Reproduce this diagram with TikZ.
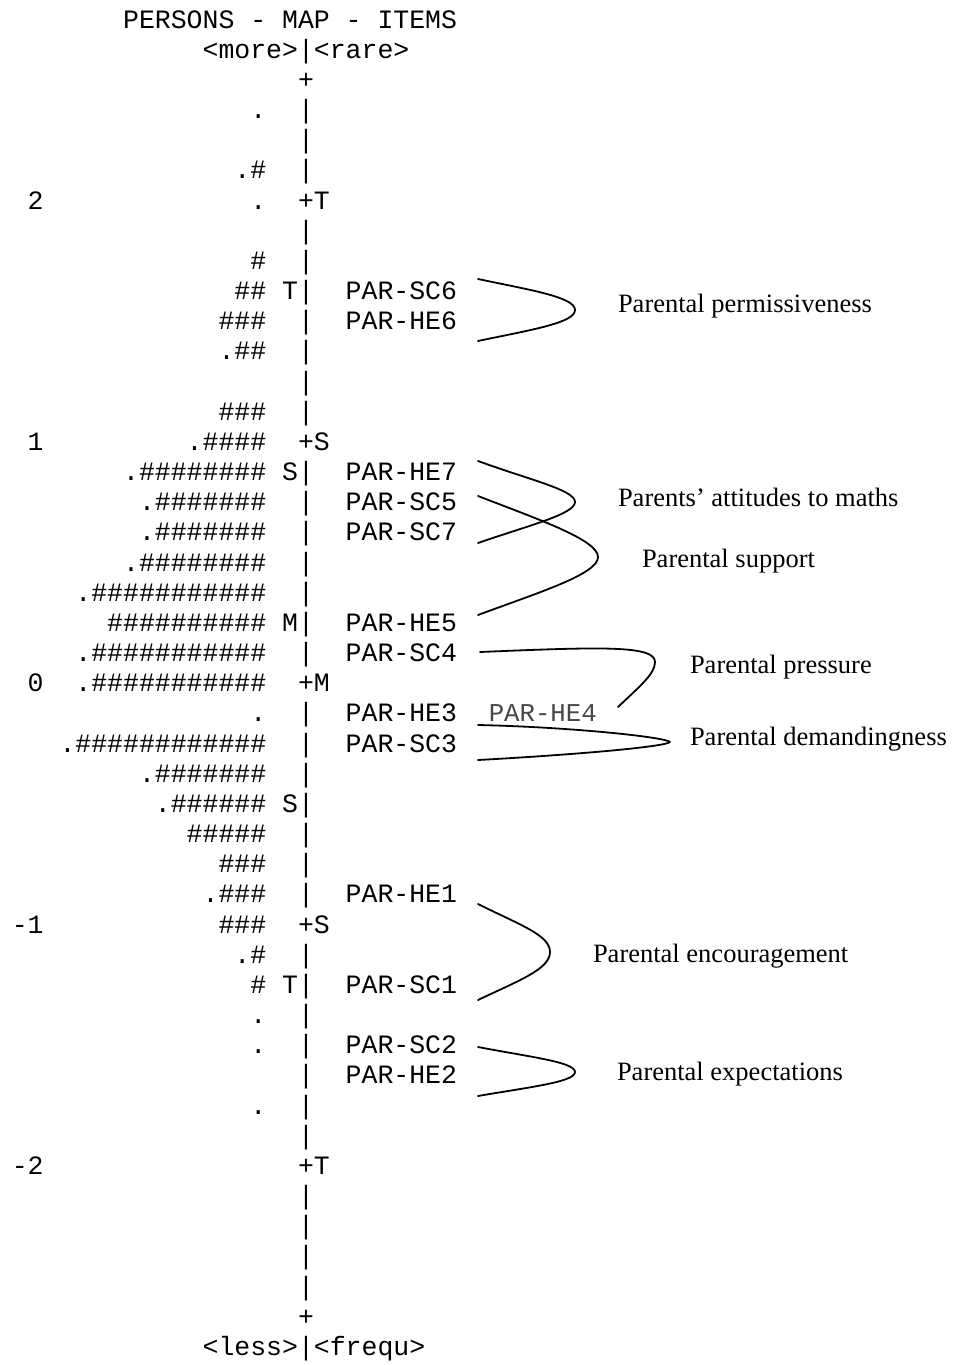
\documentclass[tikz,border=0pt]{standalone}
\usepackage{fontspec}
\newfontfamily\mapfont{Liberation Mono}
\newfontfamily\labfont{Liberation Serif}
\begin{document}
\begin{tikzpicture}[x=1pt,y=-1pt]
\tikzset{
  maprow/.style={anchor=base west, inner sep=0pt, outer sep=0pt, font=\mapfont\fontsize{26.5}{30}\selectfont},
  itemgray/.style={anchor=base west, inner sep=0pt, outer sep=0pt, font=\mapfont\fontsize{25.7}{30}\selectfont, text=black!72},
  lab/.style={anchor=base west, inner sep=0pt, outer sep=0pt, font=\labfont\fontsize{26.5}{30}\selectfont},
  brace/.style={line width=1.8pt, line join=round, line cap=round}
}
\useasboundingbox (0,0) rectangle (955,1365);
\begin{scope}[shift={(11.8,28)}, x=15.9pt, y=-30.17pt]
\node[maprow] (r0) at (7,0) {PERSONS~-~MAP~-~ITEMS};
\node[maprow] (r1) at (12,1) {<more>|<rare>};
\node[maprow] (r2) at (18,2) {+};
\node[maprow] (r3) at (15,3) {.~~|};
\node[maprow] (r4) at (18,4) {|};
\node[maprow] (r5) at (14,5) {.\#~~|};
\node[maprow] (r6) at (1,6) {2~~~~~~~~~~~~~.~~+T};
\node[maprow] (r7) at (18,7) {|};
\node[maprow] (r8) at (15,8) {\#~~|};
\node[maprow] (r9) at (14,9) {\#\#~T|~~PAR-SC6};
\node[maprow] (r10) at (13,10) {\#\#\#~~|~~PAR-HE6};
\node[maprow] (r11) at (13,11) {.\#\#~~|};
\node[maprow] (r12) at (18,12) {|};
\node[maprow] (r13) at (13,13) {\#\#\#~~|};
\node[maprow] (r14) at (1,14) {1~~~~~~~~~.\#\#\#\#~~+S};
\node[maprow] (r15) at (7,15) {.\#\#\#\#\#\#\#\#~S|~~PAR-HE7};
\node[maprow] (r16) at (8,16) {.\#\#\#\#\#\#\#~~|~~PAR-SC5};
\node[maprow] (r17) at (8,17) {.\#\#\#\#\#\#\#~~|~~PAR-SC7};
\node[maprow] (r18) at (7,18) {.\#\#\#\#\#\#\#\#~~|};
\node[maprow] (r19) at (4,19) {.\#\#\#\#\#\#\#\#\#\#\#~~|};
\node[maprow] (r20) at (6,20) {\#\#\#\#\#\#\#\#\#\#~M|~~PAR-HE5};
\node[maprow] (r21) at (4,21) {.\#\#\#\#\#\#\#\#\#\#\#~~|~~PAR-SC4};
\node[maprow] (r22) at (1,22) {0~~.\#\#\#\#\#\#\#\#\#\#\#~~+M};
\node[maprow] (r23) at (15,23) {.~~|~~PAR-HE3};
\node[itemgray] (he4) at (30,23) {PAR-HE4};
\node[maprow] (r24) at (3,24) {.\#\#\#\#\#\#\#\#\#\#\#\#~~|~~PAR-SC3};
\node[maprow] (r25) at (8,25) {.\#\#\#\#\#\#\#~~|};
\node[maprow] (r26) at (9,26) {.\#\#\#\#\#\#~S|};
\node[maprow] (r27) at (11,27) {\#\#\#\#\#~~|};
\node[maprow] (r28) at (13,28) {\#\#\#~~|};
\node[maprow] (r29) at (12,29) {.\#\#\#~~|~~PAR-HE1};
\node[maprow] (r30) at (0,30) {-1~~~~~~~~~~~\#\#\#~~+S};
\node[maprow] (r31) at (14,31) {.\#~~|};
\node[maprow] (r32) at (15,32) {\#~T|~~PAR-SC1};
\node[maprow] (r33) at (15,33) {.~~|};
\node[maprow] (r34) at (15,34) {.~~|~~PAR-SC2};
\node[maprow] (r35) at (18,35) {|~~PAR-HE2};
\node[maprow] (r36) at (15,36) {.~~|};
\node[maprow] (r37) at (18,37) {|};
\node[maprow] (r38) at (0,38) {-2~~~~~~~~~~~~~~~~+T};
\node[maprow] (r39) at (18,39) {|};
\node[maprow] (r40) at (18,40) {|};
\node[maprow] (r41) at (18,41) {|};
\node[maprow] (r42) at (18,42) {|};
\node[maprow] (r43) at (18,43) {+};
\node[maprow] (r44) at (12,44) {<less>|<frequ>};
\end{scope}

% labels
\node[lab] (l1) at (618,312) {Parental permissiveness};
\node[lab] (l2) at (618,506) {Parents’ attitudes to maths};
\node[lab] (l3) at (642,567) {Parental support};
\node[lab] (l4) at (690,673) {Parental pressure};
\node[lab] (l5) at (690,745) {Parental demandingness};
\node[lab] (l6) at (593,962) {Parental encouragement};
\node[lab] (l7) at (617,1080) {Parental expectations};

% bracket coordinates
\coordinate (pa1) at (478,279); \coordinate (pa2) at (575,310); \coordinate (pa3) at (478,341);
\coordinate (at1) at (478,461); \coordinate (at2) at (575,502); \coordinate (at3) at (478,543);
\coordinate (su1) at (478,496); \coordinate (su2) at (598,557); \coordinate (su3) at (478,615);
\coordinate (pr1) at (480,652); \coordinate (pr2) at (655,662); \coordinate (pr3) at (618,707);
\coordinate (de1) at (478,725); \coordinate (de2) at (670,742); \coordinate (de3) at (478,760);
\coordinate (en1) at (478,904); \coordinate (en2) at (550,952); \coordinate (en3) at (478,1000);
\coordinate (ex1) at (478,1047); \coordinate (ex2) at (575,1072); \coordinate (ex3) at (478,1096);

\draw[brace] (pa1) .. controls (530,290) and (575,297) .. (pa2) .. controls (575,323) and (530,330) .. (pa3);
\draw[brace] (at1) .. controls (530,480) and (575,490) .. (at2) .. controls (575,514) and (530,525) .. (at3);
\draw[brace] (su1) .. controls (540,520) and (598,540) .. (su2) .. controls (598,574) and (540,592) .. (su3);
\draw[brace] (pr1) .. controls (600,647) and (655,645) .. (pr2) .. controls (655,674) and (640,686) .. (pr3);
\draw[brace] (de1) .. controls (570,727) and (665,737) .. (de2) .. controls (665,747) and (570,755) .. (de3);
\draw[brace] (en1) .. controls (520,925) and (550,935) .. (en2) .. controls (550,969) and (520,980) .. (en3);
\draw[brace] (ex1) .. controls (530,1057) and (575,1062) .. (ex2) .. controls (575,1082) and (530,1087) .. (ex3);
\end{tikzpicture}
\end{document}
